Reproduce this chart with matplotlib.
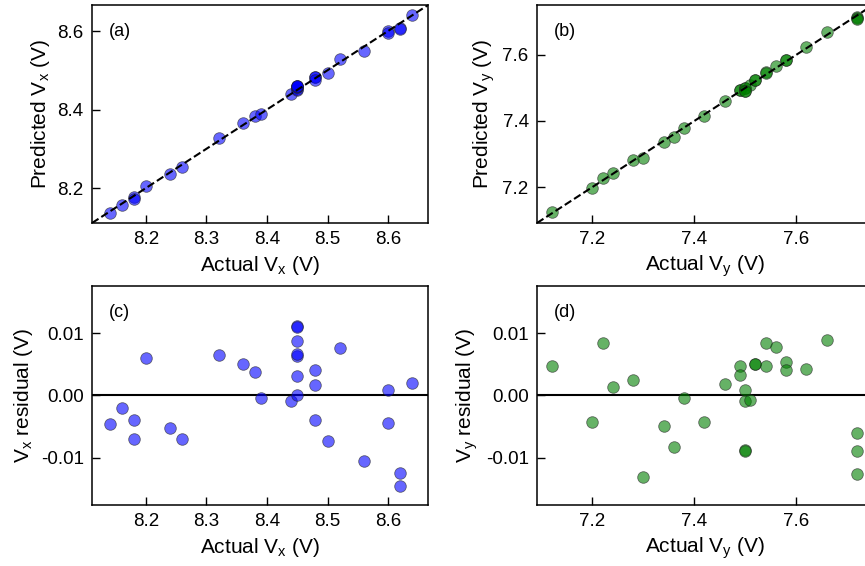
import matplotlib
matplotlib.use("Agg")
import matplotlib.pyplot as plt
import numpy as np

plt.rcParams["font.family"] = ["Liberation Sans", "DejaVu Sans"]
plt.rcParams["mathtext.default"] = "regular"

# Vx: actual value and residual (predicted - actual)
actual_x = [8.14, 8.16, 8.18, 8.18, 8.20, 8.24, 8.26, 8.32, 8.36, 8.38,
            8.39, 8.44, 8.45, 8.45, 8.45, 8.45, 8.45, 8.45, 8.45, 8.48,
            8.48, 8.48, 8.50, 8.52, 8.56, 8.60, 8.60, 8.62, 8.62, 8.64]
resid_x = [-0.0046, -0.0020, -0.0040, -0.0070, 0.0061, -0.0053, -0.0070, 0.0065, 0.0050, 0.0038,
           -0.0004, -0.0009, 0.0000, 0.0032, 0.0064, 0.0066, 0.0088, 0.0111, 0.0110, 0.0041,
           0.0017, -0.0040, -0.0073, 0.0076, -0.0106, 0.0009, -0.0045, -0.0125, -0.0146, 0.0020]

# Vy: actual value and residual
actual_y = [7.12, 7.20, 7.22, 7.24, 7.28, 7.30, 7.34, 7.36, 7.38, 7.42,
            7.46, 7.49, 7.49, 7.50, 7.50, 7.51, 7.50, 7.50, 7.52, 7.52,
            7.54, 7.54, 7.56, 7.58, 7.58, 7.62, 7.66, 7.72, 7.72, 7.72]
resid_y = [0.0048, -0.0042, 0.0084, 0.0013, 0.0025, -0.0131, -0.0049, -0.0083, -0.0004, -0.0042,
           0.0019, 0.0048, 0.0033, 0.0009, -0.0009, -0.0008, -0.0088, -0.0089, 0.0050, 0.0051,
           0.0085, 0.0048, 0.0078, 0.0054, 0.0041, 0.0042, 0.0089, -0.0060, -0.0089, -0.0126]

lims_x = (8.111, 8.666)
lims_y = (7.091, 7.751)
res_lim = 0.0176

ax_x = np.array(actual_x)
ax_y = np.array(actual_y)
pred_x = ax_x + np.array(resid_x)
pred_y = ax_y + np.array(resid_y)

fig = plt.figure(figsize=(8.65, 5.66), dpi=100)
w, h = 0.3884, 0.385
axa = fig.add_axes([0.1064, 0.606, w, h])
axb = fig.add_axes([0.6208, 0.606, w, h])
axc = fig.add_axes([0.1064, 0.1078, w, 0.387])
axd = fig.add_axes([0.6208, 0.1078, w, 0.387])

dot = dict(s=70, alpha=0.6, edgecolors="#222222", linewidths=0.6, zorder=3)

# parity plots
for ax, act, pred, lims, col, name, tag in [
    (axa, ax_x, pred_x, lims_x, "blue", "x", "(a)"),
    (axb, ax_y, pred_y, lims_y, "green", "y", "(b)"),
]:
    ax.scatter(act, pred, color=col, **dot)
    ax.plot(lims, lims, "k--", lw=1.5, zorder=4)
    ax.set_xlim(lims)
    ax.set_ylim(lims)
    ax.set_xlabel(f"Actual $V_{name}$ (V)", fontsize=15)
    ax.set_ylabel(f"Predicted $V_{name}$ (V)", fontsize=15)
    ax.text(0.05, 0.88, tag, transform=ax.transAxes, fontsize=13, va="center")

# residual plots
for ax, act, res, lims, col, name, tag in [
    (axc, ax_x, resid_x, lims_x, "blue", "x", "(c)"),
    (axd, ax_y, resid_y, lims_y, "green", "y", "(d)"),
]:
    ax.scatter(act, res, color=col, **dot)
    ax.axhline(0, color="k", lw=1.5, zorder=2)
    ax.set_xlim(lims)
    ax.set_ylim(-res_lim, res_lim)
    ax.set_yticks([-0.01, 0.0, 0.01])
    ax.set_yticklabels(["-0.01", "0.00", "0.01"])
    ax.set_xlabel(f"Actual $V_{name}$ (V)", fontsize=15)
    ax.set_ylabel(f"$V_{name}$ residual (V)", fontsize=15)
    ax.text(0.05, 0.88, tag, transform=ax.transAxes, fontsize=13, va="center")

axa.set_xticks([8.2, 8.3, 8.4, 8.5, 8.6])
axc.set_xticks([8.2, 8.3, 8.4, 8.5, 8.6])
axa.set_yticks([8.2, 8.4, 8.6])
axb.set_xticks([7.2, 7.4, 7.6])
axd.set_xticks([7.2, 7.4, 7.6])
axb.set_yticks([7.2, 7.4, 7.6])

for ax in (axa, axb, axc, axd):
    ax.tick_params(direction="in", length=6, width=1, labelsize=13.5, pad=6)
    for sp in ax.spines.values():
        sp.set_linewidth(1.1)

fig.savefig("out.png", dpi=100)
